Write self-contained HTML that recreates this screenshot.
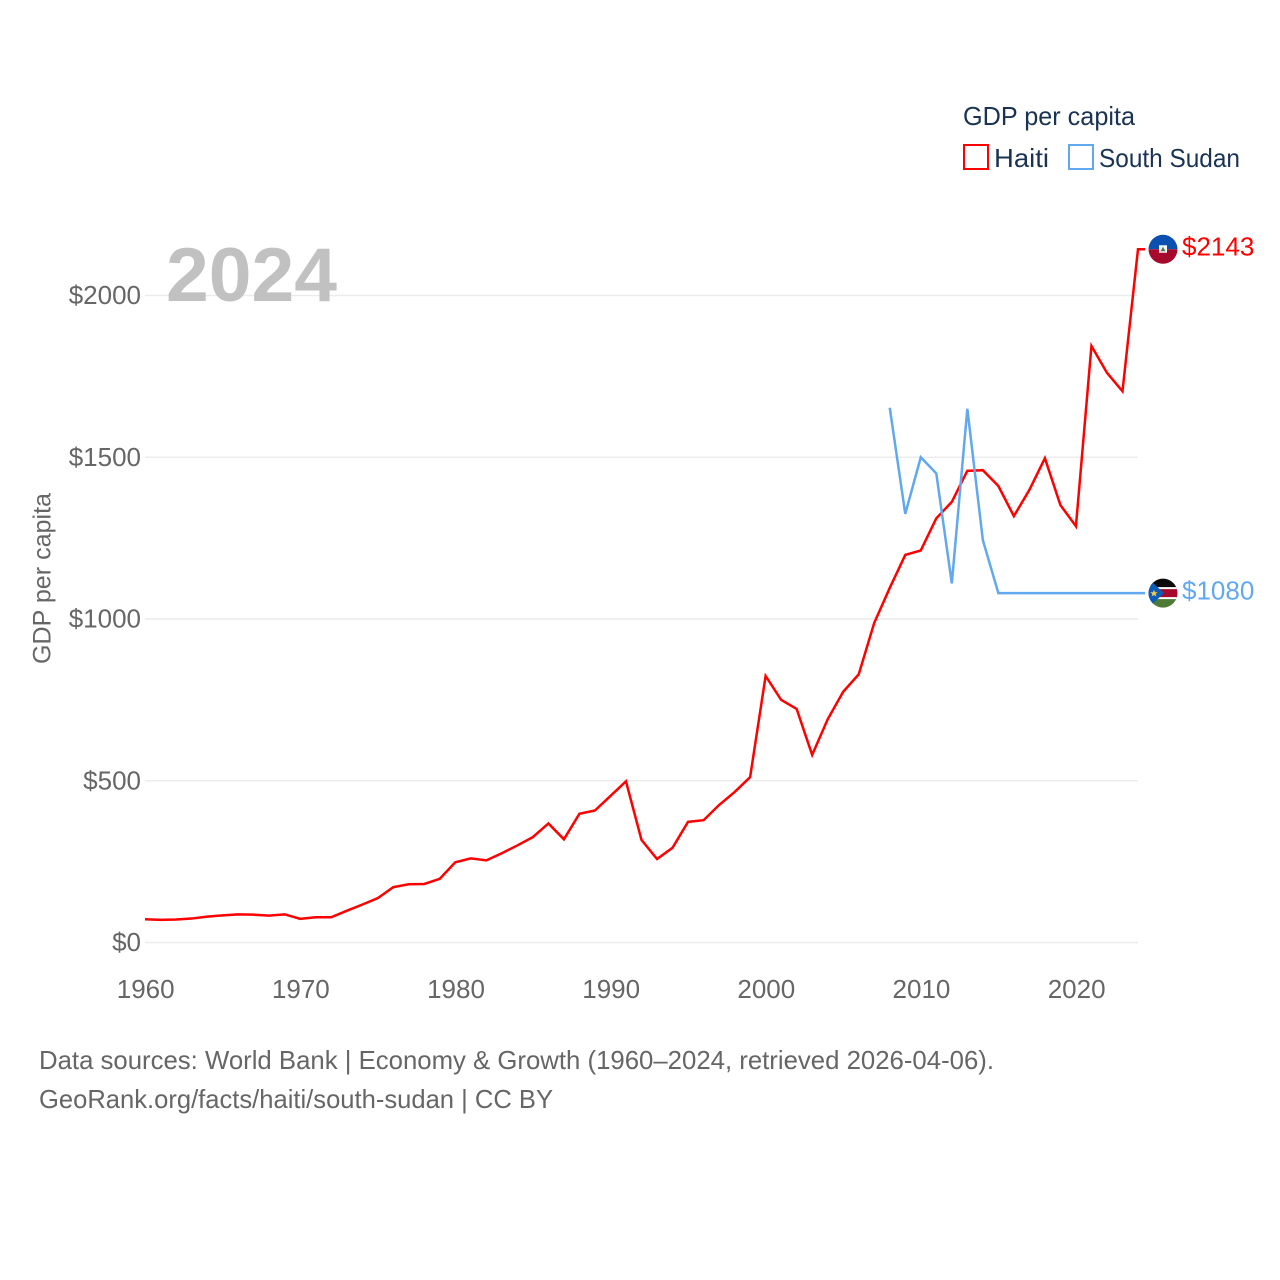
<!DOCTYPE html>
<html lang="en">
<head>
<meta charset="utf-8">
<title>GDP per capita: Haiti and South Sudan</title>
<style>
  html, body { margin: 0; padding: 0; background: #fff; }
  svg { display: block; font-family: "Liberation Sans", sans-serif; }
</style>
</head>
<body>
<svg id="chart" xmlns="http://www.w3.org/2000/svg" width="1280" height="1280" viewBox="0 0 1280 1280">
  <defs>
    <clipPath id="flag-clip"><circle cx="0" cy="0" r="14.5"></circle></clipPath>
  </defs>
  <rect width="1280" height="1280" fill="#ffffff"></rect>

  <g id="grid"></g>
  <g id="y-ticks"></g>
  <g id="x-ticks"></g>

  <text x="166" y="301" font-size="76" font-weight="700" fill="#c1c1c1" textLength="171" lengthAdjust="spacingAndGlyphs">2024</text>
  <text transform="translate(50.5 578.5) rotate(-90)" text-anchor="middle" font-size="25" fill="#666666" textLength="171" lengthAdjust="spacingAndGlyphs">GDP per capita</text>

  <g id="series"></g>
  <g id="end-markers"></g>

  <g>
    <text x="963" y="125" font-size="26" fill="#1a3353" textLength="172" lengthAdjust="spacingAndGlyphs">GDP per capita</text>
    <rect x="964" y="145" width="24" height="24" fill="none" stroke="#ff0000" stroke-width="2"></rect>
    <text x="994" y="167" font-size="26" fill="#1a3353" textLength="55" lengthAdjust="spacingAndGlyphs">Haiti</text>
    <rect x="1069" y="145" width="24" height="24" fill="none" stroke="#62a8ee" stroke-width="2"></rect>
    <text x="1099" y="167" font-size="26" fill="#1a3353" textLength="141" lengthAdjust="spacingAndGlyphs">South Sudan</text>
  </g>

  <g>
    <text x="39" y="1069" font-size="26" fill="#666666" textLength="955" lengthAdjust="spacingAndGlyphs">Data sources: World Bank | Economy &amp; Growth (1960–2024, retrieved 2026-04-06).</text>
    <text x="39" y="1108" font-size="26" fill="#666666" textLength="514" lengthAdjust="spacingAndGlyphs">GeoRank.org/facts/haiti/south-sudan | CC BY</text>
  </g>
</svg>

<script>
const haitiYears = [1960,1961,1962,1963,1964,1965,1966,1967,1968,1969,1970,1971,1972,1973,1974,1975,1976,1977,1978,1979,1980,1981,1982,1983,1984,1985,1986,1987,1988,1989,1990,1991,1992,1993,1994,1995,1996,1997,1998,1999,2000,2001,2002,2003,2004,2005,2006,2007,2008,2009,2010,2011,2012,2013,2014,2015,2016,2017,2018,2019,2020,2021,2022,2023,2024];
const haitiValues = [72,70,71,74,80,84,87,86,83,87,73,78,78,98,117,137,171,180,181,197,248,260,254,276,300,326,368,319,398,408,453,498,317,258,293,373,378,425,465,511,824,750,722,580,690,775,829,988,1096,1198,1212,1311,1362,1458,1460,1411,1318,1399,1497,1352,1287,1844,1761,1704,2143];
const southSudanYears = [2008,2009,2010,2011,2012,2013,2014,2015,2016,2017,2018,2019,2020,2021,2022,2023,2024];
const southSudanValues = [1653,1325,1500,1450,1110,1650,1244,1080,1080,1080,1080,1080,1080,1080,1080,1080,1080];
const xTickValues = [1960,1970,1980,1990,2000,2010,2020];
const yTickValues = [0,500,1000,1500,2000];

const SVG_NS = 'http://www.w3.org/2000/svg';
const plot = { left: 145, right: 1138, top: 295.5, bottom: 942.5, xMin: 1960, xMax: 2024, yMin: 0, yMax: 2000 };
const xScale = (year) => plot.left + (year - plot.xMin) / (plot.xMax - plot.xMin) * (plot.right - plot.left);
const yScale = (value) => plot.bottom - (value - plot.yMin) / (plot.yMax - plot.yMin) * (plot.bottom - plot.top);

function make(tag, attrs, parent, text) {
  const el = document.createElementNS(SVG_NS, tag);
  for (const key in attrs) el.setAttribute(key, attrs[key]);
  if (text !== undefined) el.textContent = text;
  parent.appendChild(el);
  return el;
}

const gridGroup = document.getElementById('grid');
const yTickGroup = document.getElementById('y-ticks');
const xTickGroup = document.getElementById('x-ticks');
const seriesGroup = document.getElementById('series');
const markerGroup = document.getElementById('end-markers');

yTickValues.forEach((value) => {
  const line = make('line', { x1: plot.left, x2: plot.right, y1: yScale(value), y2: yScale(value), stroke: '#ececec', 'stroke-width': 1.5 }, gridGroup);
  
  
  const label = make('text', { x: 141, y: yScale(value) + 8.5, 'text-anchor': 'end', 'font-size': 26, fill: '#666666' }, yTickGroup, '$' + value);
  
  
});

xTickValues.forEach((year) => {
  const label = make('text', { x: xScale(year) + 0.7, y: 998, 'text-anchor': 'middle', 'font-size': 26, fill: '#666666' }, xTickGroup, String(year));
  
  
});

function linePath(years, values, endX) {
  const pts = years.map((year, i) => xScale(year).toFixed(2) + ',' + yScale(values[i]).toFixed(2));
  pts.push(endX + ',' + yScale(values[values.length - 1]).toFixed(2));
  return pts.join(' ');
}

const haitiLine = make('polyline', { points: linePath(haitiYears, haitiValues, 1145), fill: 'none', stroke: '#ff0000', 'stroke-width': 2.5, 'stroke-linejoin': 'miter' }, seriesGroup);



const southSudanLine = make('polyline', { points: linePath(southSudanYears, southSudanValues, 1145), fill: 'none', stroke: '#62a8ee', 'stroke-width': 2.5, 'stroke-linejoin': 'miter' }, seriesGroup);



function drawHaitiFlag(g) {
  const c = make('g', { 'clip-path': 'url(#flag-clip)' }, g);
  make('rect', { x: -15, y: -15, width: 30, height: 15, fill: '#0b4fb0' }, c);
  make('rect', { x: -15, y: 0, width: 30, height: 15, fill: '#a50a2c' }, c);
  make('rect', { x: -4, y: -4, width: 8, height: 7.5, fill: '#f4f4f4' }, c);
  make('polygon', { points: '-2.5,2 0,-2.5 2.5,2', fill: '#4d7a60' }, c);
}

function drawSouthSudanFlag(g) {
  const c = make('g', { 'clip-path': 'url(#flag-clip)' }, g);
  make('rect', { x: -15, y: -15, width: 30, height: 10, fill: '#0a0a0a' }, c);
  make('rect', { x: -15, y: -5, width: 30, height: 10, fill: '#a50a2c' }, c);
  make('rect', { x: -15, y: 5, width: 30, height: 10, fill: '#4d7a35' }, c);
  make('rect', { x: -15, y: -6, width: 30, height: 2, fill: '#ffffff' }, c);
  make('rect', { x: -15, y: 4, width: 30, height: 2, fill: '#ffffff' }, c);
  make('polygon', { points: '-15,-15 1,0 -15,15', fill: '#0b5cb8' }, c);
  make('polygon', { points: '-9,-3.5 -8,-0.9 -5.2,-0.9 -7.4,0.8 -6.6,3.4 -9,1.9 -11.4,3.4 -10.6,0.8 -12.8,-0.9 -10,-0.9', fill: '#f5cf45' }, c);
}

function drawEndMarker(value, color, drawFlag, flagName, labelName) {
  const y = yScale(value);
  const flag = make('g', { transform: 'translate(1163 ' + y.toFixed(2) + ')' }, markerGroup);
  
  
  drawFlag(flag);
  const label = make('text', { x: 1182, y: y + 6.5, 'font-size': 26, fill: color }, markerGroup, '$' + value);
  
  
}

drawEndMarker(haitiValues[haitiValues.length - 1], '#ff0000', drawHaitiFlag, 'haiti-flag-icon', 'haiti-end-value');
drawEndMarker(southSudanValues[southSudanValues.length - 1], '#62a8ee', drawSouthSudanFlag, 'south-sudan-flag-icon', 'south-sudan-end-value');
</script>
</body>
</html>
